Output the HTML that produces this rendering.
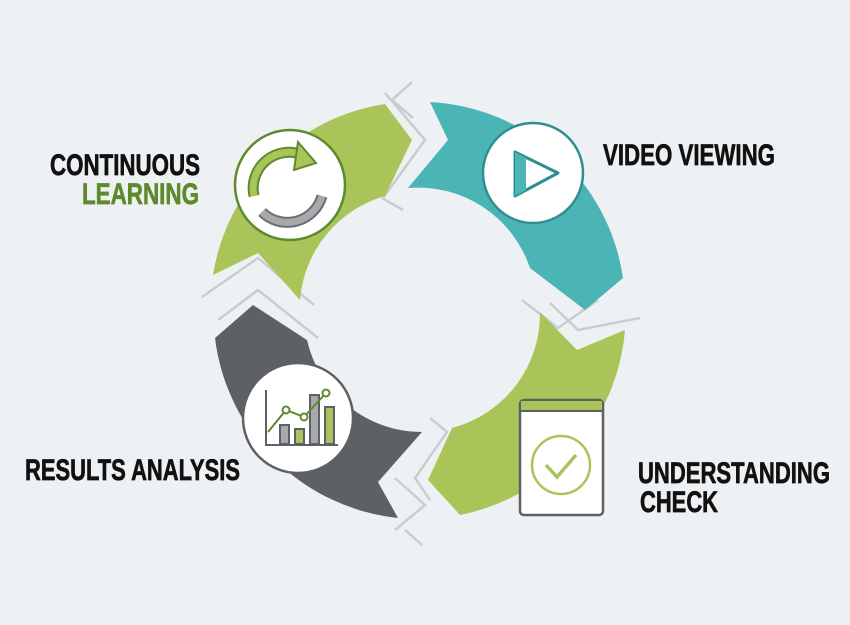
<!DOCTYPE html>
<html><head><meta charset="utf-8"><style>
html,body{margin:0;padding:0;background:#eef1f4;}
svg{display:block}
text{font-family:"Liberation Sans Narrow","Liberation Sans",sans-serif;font-weight:bold;font-size:30px;stroke-width:0.7;}
</style></head><body>
<svg width="850" height="625" viewBox="0 0 850 625" xmlns="http://www.w3.org/2000/svg">
<rect width="850" height="625" fill="#eef1f4"/>
<g fill="none" stroke="#c9cdd1" stroke-width="2.5">
<polyline points="385,93 425,140 383,198"/>
<polyline points="412,82 392,100 413,118"/>
<polyline points="382,198 403,210"/>
<polyline points="202,297 258,258 314,305"/>
<polyline points="218,320 258,290 318,338"/>
<polyline points="522,300 558,328 598,300"/>
<polyline points="550,303 578,330 640,318"/>
<polyline points="430,418 447,432 415,478 430,500"/>
<polyline points="395,478 425,505 395,530"/>
<polyline points="405,530 422,545"/>
</g>
<path d="M213,275 A206,206 0 0 1 385,104 L412,140 L385,196 A118,118 0 0 0 300,300 L258,253 Z" fill="#a9c55a"/>
<path d="M430,102 A206,206 0 0 1 623,278 L585,310 L530,268 A118,118 0 0 0 408,188 L448,140 Z" fill="#4bb5b6"/>
<path d="M625,330 A206,206 0 0 1 460,515 L428,480 L452,428 A118,118 0 0 0 540,312 L577,350 Z" fill="#a9c55a"/>
<path d="M398,518 A206,206 0 0 1 215,338 L253,305 L307,340 A118,118 0 0 0 422,432 L378,482 Z" fill="#5d6166"/>
<circle cx="290" cy="185" r="55" fill="#fff" stroke="#5e8a2e" stroke-width="2.5"/>
<path d="M254,196 A36,36 0 0 1 303,155" fill="none" stroke="#5e8a2e" stroke-width="11"/>
<path d="M254,196 A36,36 0 0 1 303,155" fill="none" stroke="#a9c55a" stroke-width="7"/>
<polygon points="298,142 316,163 294,170" fill="#a9c55a" stroke="#5e8a2e" stroke-width="2"/>
<path d="M322,196 A36,36 0 0 1 262,212" fill="none" stroke="#6b6e72" stroke-width="11"/>
<path d="M322,196 A36,36 0 0 1 262,212" fill="none" stroke="#a7a9ac" stroke-width="7"/>
<circle cx="533" cy="173" r="50" fill="#fff" stroke="#2f8f90" stroke-width="2.5"/>
<polygon points="515,152 558,173 515,196" fill="#fff" stroke="#2f8f90" stroke-width="3" stroke-linejoin="round"/>
<polygon points="515,152 526,158 526,190 515,196" fill="#4bb5b6"/>
<circle cx="298" cy="418" r="55" fill="#fff" stroke="#5d6166" stroke-width="2.5"/>
<g stroke="#5d6166" stroke-width="2">
<polyline points="266,390 266,445 338,445" fill="none"/>
<rect x="280" y="425" width="9" height="19" fill="#a7a9ac"/>
<rect x="295" y="429" width="9" height="15" fill="#a9c55a"/>
<rect x="310" y="395" width="9" height="49" fill="#a7a9ac"/>
<rect x="325" y="407" width="9" height="37" fill="#a9c55a"/>
</g>
<polyline points="268,432 286,410 304,417 326,393" fill="none" stroke="#5e8a2e" stroke-width="2"/>
<g fill="#fff" stroke="#5e8a2e" stroke-width="2"><circle cx="286" cy="410" r="3.5"/><circle cx="304" cy="417" r="3.5"/><circle cx="326" cy="393" r="3.5"/></g>
<rect x="520" y="400" width="83" height="115" rx="4" fill="#fff" stroke="#5d6166" stroke-width="2.5"/>
<rect x="521" y="401" width="81" height="9" fill="#a9c55a"/>
<line x1="520" y1="411" x2="603" y2="411" stroke="#5d6166" stroke-width="2"/>
<circle cx="561" cy="465" r="29" fill="none" stroke="#a9c55a" stroke-width="2.5"/>
<polyline points="546,465 557,477 576,455" fill="none" stroke="#a9c55a" stroke-width="3.5"/>
<text x="50" y="175" textLength="150" lengthAdjust="spacingAndGlyphs" fill="#111" stroke="#111">CONTINUOUS</text>
<text x="82" y="204" textLength="117" lengthAdjust="spacingAndGlyphs" fill="#5e8a2e" stroke="#5e8a2e">LEARNING</text>
<text x="603" y="165" textLength="172" lengthAdjust="spacingAndGlyphs" fill="#111" stroke="#111">VIDEO VIEWING</text>
<text x="25" y="480" textLength="215" lengthAdjust="spacingAndGlyphs" fill="#111" stroke="#111">RESULTS ANALYSIS</text>
<text x="638" y="483" textLength="192" lengthAdjust="spacingAndGlyphs" fill="#111" stroke="#111">UNDERSTANDING</text>
<text x="640" y="512" textLength="78" lengthAdjust="spacingAndGlyphs" fill="#111" stroke="#111">CHECK</text>
</svg>
</body></html>
